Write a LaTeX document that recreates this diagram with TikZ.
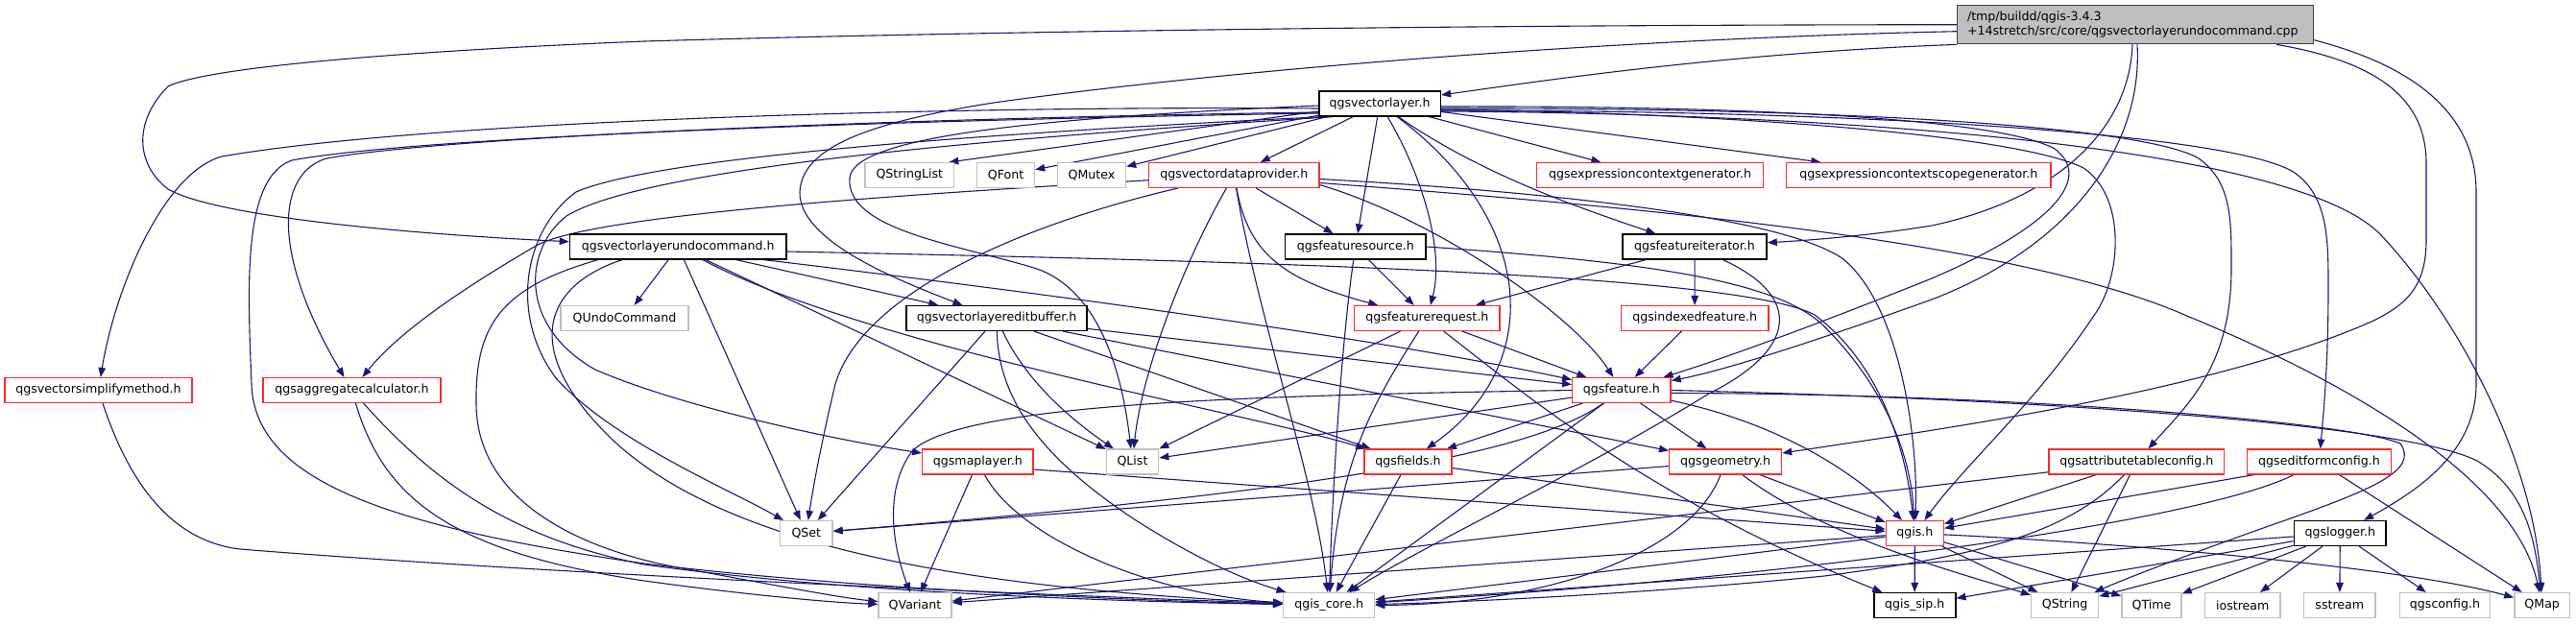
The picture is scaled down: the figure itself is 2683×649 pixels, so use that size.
\documentclass[tikz,border=0pt]{standalone}
\usepackage{fontspec}
\setmainfont{DejaVu Sans}
\usetikzlibrary{arrows.meta}
\definecolor{edgec}{HTML}{191970}
\definecolor{lgray}{HTML}{BFBFBF}
\definecolor{dgray}{HTML}{404040}
\definecolor{nred}{HTML}{FF2A2A}
\pgfdeclarelayer{bg}
\pgfdeclarelayer{edges}
\pgfsetlayers{bg,edges,main}
\tikzset{
  box/.style={fill=white, inner sep=0pt, minimum height=25.7pt, font=\fontsize{12.6}{15}\selectfont, line width=1.4pt},
  nb/.style={box, draw=black, line width=1.6pt},
  nr/.style={box, draw=nred},
  ng/.style={box, draw=lgray},
  ncpp/.style={box, draw=dgray, fill=lgray, minimum height=40pt, text width=350pt, inner xsep=10.5pt, align=left},
  lnk/.style={draw=edgec, line width=1.1pt, -{Triangle[length=10pt,width=7.5pt]}}
}
\begin{document}
\begin{tikzpicture}[x=1pt,y=-1pt]
\begin{pgfonlayer}{bg}
\fill[white] (0,0) rectangle (2683,649);
\end{pgfonlayer}
\useasboundingbox (0,0) rectangle (2683,649);

% nodes
\node[ncpp] (C) at (2224,25.7) {/tmp/buildd/qgis-3.4.3\\+14stretch/src/core/qgsvectorlayerundocommand.cpp};
\node[nb, minimum width=126.6pt] (VL) at (1437,108) {qgsvectorlayer.h};
\node[ng, minimum width=92.6pt] (QSL) at (947.3,182.5) {QStringList};
\node[ng, minimum width=60pt] (QF) at (1047.5,182.5) {QFont};
\node[ng, minimum width=71pt] (QMX) at (1137,182.5) {QMutex};
\node[nr, minimum width=177.3pt] (VDP) at (1285.3,182.5) {qgsvectordataprovider.h};
\node[nr, minimum width=236.2pt] (ECG) at (1718.6,182.5) {qgsexpressioncontextgenerator.h};
\node[nr, minimum width=275.4pt] (ECSG) at (1998.3,182.5) {qgsexpressioncontextscopegenerator.h};
\node[nb, minimum width=225.5pt] (UC) at (706.3,257) {qgsvectorlayerundocommand.h};
\node[nb, minimum width=146.5pt] (FS) at (1411.8,257) {qgsfeaturesource.h};
\node[nb, minimum width=150pt] (FI) at (1765,257) {qgsfeatureiterator.h};
\node[ng, minimum width=133pt] (QUC) at (650.5,331.5) {QUndoCommand};
\node[nb, minimum width=188pt] (EB) at (1038,331.5) {qgsvectorlayereditbuffer.h};
\node[nr, minimum width=151.5pt] (FR) at (1486.3,331.5) {qgsfeaturerequest.h};
\node[nr, minimum width=153.2pt] (IF) at (1765.2,331.5) {qgsindexedfeature.h};
\node[nr, minimum width=195pt] (VSM) at (102.5,406.5) {qgsvectorsimplifymethod.h};
\node[nr, minimum width=185pt] (AGG) at (366.5,406.5) {qgsaggregatecalculator.h};
\node[nr, minimum width=102.3pt] (F) at (1688.9,406.5) {qgsfeature.h};
\node[nr, minimum width=115.3pt] (ML) at (1018.4,481) {qgsmaplayer.h};
\node[ng, minimum width=54.3pt] (QL) at (1179.5,481) {QList};
\node[nr, minimum width=91pt] (FLD) at (1466.5,481) {qgsfields.h};
\node[nr, minimum width=116.8pt] (G) at (1797.1,481) {qgsgeometry.h};
\node[nr, minimum width=182.7pt] (ATC) at (2225.3,481) {qgsattributetableconfig.h};
\node[nr, minimum width=149.8pt] (EFC) at (2415.5,481) {qgseditformconfig.h};
\node[ng, minimum width=54.4pt] (QS) at (839.8,555.5) {QSet};
\node[nr, minimum width=60pt] (Q) at (1994.3,555.5) {qgis.h};
\node[nb, minimum width=95.9pt] (LOG) at (2437.3,555.5) {qgslogger.h};
\node[ng, minimum width=76pt] (QV) at (953,630.5) {QVariant};
\node[ng, minimum width=95pt] (QC) at (1384.2,630.5) {qgis\_core.h};
\node[nb, minimum width=85pt] (SIP) at (1994.2,630.5) {qgis\_sip.h};
\node[ng, minimum width=70pt] (QSTR) at (2150.6,630.5) {QString};
\node[ng, minimum width=62pt] (QT) at (2241,630.5) {QTime};
\node[ng, minimum width=78.5pt] (IOS) at (2335.7,630.5) {iostream};
\node[ng, minimum width=74.3pt] (SST) at (2436.8,630.5) {sstream};
\node[ng, minimum width=94pt] (CFG) at (2546.5,630.5) {qgsconfig.h};
\node[ng, minimum width=57.7pt] (QM) at (2647.7,630.5) {QMap};

\begin{pgfonlayer}{edges}
% from the cpp file
\draw[lnk] (C.south west) .. controls (1800,55) and (1600,85) .. (VL);
\draw[lnk] (C.west) .. controls (1400,26) and (900,36) .. (671,43) .. controls (450,52) and (220,68) .. (175,90) .. controls (140,125) and (140,170) .. (175,197) .. controls (230,228) and (450,245) .. (UC);
\draw[lnk] ([yshift=-7pt]C.west) .. controls (1700,40) and (1300,70) .. (1035,107) .. controls (900,128) and (835,155) .. (833,200) .. controls (832,250) and (930,290) .. (EB);
\draw[lnk] ([xshift=-3pt]C.south) .. controls (2218,130) and (2150,205) .. (2012,235) .. controls (1950,245) and (1890,250) .. (FI);
\draw[lnk] ([xshift=2pt]C.south) .. controls (2232,150) and (2160,255) .. (2012,312) .. controls (1900,352) and (1800,385) .. (F);
\draw[lnk] ([xshift=-39pt]C.south east) .. controls (2480,65) and (2527,105) .. (2527,170) -- (2527,250) .. controls (2527,300) and (2505,318) .. (2470,335) .. controls (2300,410) and (2000,450) .. (G);
\draw[lnk] ([yshift=-16pt]C.east) .. controls (2500,65) and (2579,110) .. (2579,200) -- (2579,400) .. controls (2579,470) and (2520,510) .. (LOG);

% from qgsvectorlayer.h
\draw[lnk] ([yshift=-8pt]VL.west) -- ([xshift=-6pt]QSL.north east);
\draw[lnk] (VL) -- (QF);
\draw[lnk] (VL) -- (QMX);
\draw[lnk] (VL) -- (VDP);
\draw[lnk] (VL) -- (ECG);
\draw[lnk] (VL) -- (ECSG);
\draw[lnk] (VL) -- (FS);
\draw[lnk] (VL) .. controls (1540,180) and (1640,215) .. (FI);
\draw[lnk] (VL) .. controls (1480,180) and (1505,260) .. (FR);
\draw[lnk] (VL) .. controls (1600,230) and (1610,380) .. (FLD);
\draw[lnk] ([yshift=-3pt]VL.east) .. controls (1800,110) and (2080,122) .. (2140,155) .. controls (2180,185) and (2140,235) .. (2012,290) .. controls (1900,335) and (1800,372) .. (F);
\draw[lnk] ([yshift=-6pt]VL.east) .. controls (1800,118) and (2100,140) .. (2170,175) .. controls (2215,205) and (2210,290) .. (2180,330) .. controls (2120,420) and (2050,480) .. (Q);
\draw[lnk] ([yshift=-8pt]VL.east) .. controls (1900,118) and (2390,150) .. (2480,245) .. controls (2560,330) and (2640,480) .. (QM);
\draw[lnk] ([yshift=-5pt]VL.east) .. controls (1900,112) and (2230,130) .. (2290,165) .. controls (2325,190) and (2324,230) .. (2324,280) .. controls (2324,380) and (2280,420) .. (ATC);
\draw[lnk] ([yshift=-7pt]VL.east) .. controls (1950,115) and (2330,140) .. (2390,180) .. controls (2425,205) and (2425,250) .. (2425,300) .. controls (2425,380) and (2420,430) .. (EFC);
\draw[lnk] ([yshift=-9pt]VL.west) .. controls (1000,122) and (480,140) .. (340,165) .. controls (290,180) and (280,260) .. (AGG);
\draw[lnk] ([yshift=-5pt]VL.west) .. controls (1000,110) and (450,125) .. (231,163) .. controls (170,180) and (120,300) .. (VSM);
\draw[lnk] ([yshift=-10pt]VL.west) .. controls (1000,124) and (450,140) .. (304,167) .. controls (252,185) and (258,300) .. (262,400) .. controls (265,500) and (400,548) .. (671,587) .. controls (900,615) and (1200,626) .. (QC);
\draw[lnk] ([xshift=15pt]VL.south west) .. controls (1100,140) and (680,170) .. (590,225) .. controls (545,260) and (540,340) .. (620,385) .. controls (700,420) and (850,455) .. (ML);
\draw[lnk] ([xshift=5pt]VL.south west) .. controls (1000,140) and (680,165) .. (600,200) .. controls (545,240) and (530,330) .. (580,395) .. controls (640,460) and (760,510) .. (QS);
\draw[lnk] ([yshift=-2pt]VL.west) .. controls (1100,122) and (890,140) .. (885,185) .. controls (880,240) and (1000,255) .. (1080,280) .. controls (1150,305) and (1170,400) .. (QL);

% from qgsvectorlayerundocommand.h
\draw[lnk] (UC) -- (QUC);
\draw[lnk] (UC) -- (QS);
\draw[lnk] (UC) -- (QL);
\draw[lnk] (UC) -- (EB);
\draw[lnk] ([xshift=-24pt]UC.south east) .. controls (1000,295) and (1400,345) .. (F);
\draw[lnk] (UC) .. controls (900,360) and (1300,430) .. (FLD);
\draw[lnk] ([yshift=-5pt]UC.east) .. controls (1300,272) and (1810,285) .. (1890,328) .. controls (1960,380) and (1985,470) .. (Q);
\draw[lnk] ([xshift=30pt]UC.south west) .. controls (520,300) and (495,340) .. (496,420) .. controls (496,520) and (600,570) .. (700,590) .. controls (800,608) and (870,622) .. (QV);
\draw[lnk] ([xshift=55pt]UC.south west) .. controls (560,300) and (545,370) .. (640,460) .. controls (760,570) and (1000,612) .. (QC);

% from qgsvectordataprovider.h
\draw[lnk] (VDP) .. controls (900,205) and (620,225) .. (560,255) .. controls (500,290) and (420,340) .. (AGG);
\draw[lnk] (VDP) .. controls (1080,230) and (900,300) .. (870,400) .. controls (858,450) and (848,500) .. (QS);
\draw[lnk] (VDP) .. controls (1240,260) and (1190,380) .. (QL);
\draw[lnk] (VDP) .. controls (1310,330) and (1370,500) .. (QC);
\draw[lnk] (VDP) -- (FS);
\draw[lnk] (VDP) .. controls (1300,260) and (1330,290) .. (FR);
\draw[lnk] ([yshift=-10pt]VDP.east) .. controls (1500,230) and (1640,330) .. (F);
\draw[lnk] ([yshift=-4pt]VDP.east) .. controls (1550,196) and (1850,220) .. (1920,270) .. controls (1980,320) and (1998,460) .. (Q);
\draw[lnk] ([yshift=-8pt]VDP.east) .. controls (1700,215) and (2100,250) .. (2280,330) .. controls (2450,400) and (2620,500) .. (QM);

% from qgsfeaturesource.h / qgsfeatureiterator.h
\draw[lnk] (FS) .. controls (1398,350) and (1388,500) .. (QC);
\draw[lnk] (FS) -- (FR);
\draw[lnk] (FS.east) .. controls (1700,272) and (1850,290) .. (1900,340) .. controls (1960,400) and (1990,470) .. (Q);
\draw[lnk] (FI) -- (IF);
\draw[lnk] (FI) -- (FR);
\draw[lnk] (FI) .. controls (1880,310) and (1870,365) .. (1780,410) .. controls (1650,490) and (1480,570) .. (QC);

% from qgsvectorlayereditbuffer.h
\draw[lnk] (EB) .. controls (1040,420) and (1090,480) .. (1180,540) .. controls (1250,585) and (1300,605) .. (QC);
\draw[lnk] (EB) .. controls (1070,400) and (1120,440) .. (QL);
\draw[lnk] (EB) -- (QS);
\draw[lnk] (EB) -- (FLD);
\draw[lnk] (EB) -- (F);
\draw[lnk] (EB) -- (G);

% from qgsfeaturerequest.h / qgsindexedfeature.h
\draw[lnk] (FR) -- (QL);
\draw[lnk] (FR) .. controls (1430,420) and (1395,480) .. (QC);
\draw[lnk] (FR) .. controls (1600,420) and (1720,520) .. (SIP);
\draw[lnk] (FR) -- (F);
\draw[lnk] (IF) -- (F);

% from qgsvectorsimplifymethod.h / qgsaggregatecalculator.h
\draw[lnk] (VSM) .. controls (140,520) and (190,565) .. (250,572) .. controls (600,600) and (1100,620) .. (QC);
\draw[lnk] (AGG) .. controls (400,520) and (470,575) .. (671,605) .. controls (780,620) and (870,628) .. (QV);
\draw[lnk] (AGG) .. controls (450,500) and (530,560) .. (671,588) .. controls (900,620) and (1200,627) .. (QC);

% from qgsfeature.h
\draw[lnk] (F.west) .. controls (1300,412) and (1000,420) .. (950,470) .. controls (920,510) and (930,570) .. (QV);
\draw[lnk] (F) -- (QL);
\draw[lnk] (F) .. controls (1600,470) and (1400,510) .. (QS);
\draw[lnk] (F) -- (QC);
\draw[lnk] (F) -- (FLD);
\draw[lnk] (F) -- (G);
\draw[lnk] (F) .. controls (1850,440) and (1930,490) .. (Q);
\draw[lnk] (F.east) .. controls (2100,415) and (2500,440) .. (2580,480) .. controls (2630,510) and (2640,560) .. (QM);
\draw[lnk] ([yshift=-3pt]F.east) .. controls (2100,410) and (2450,440) .. (2500,462) .. controls (2520,490) and (2470,510) .. (2380,542) .. controls (2300,570) and (2220,600) .. (QSTR);

% from qgsmaplayer.h / qgsfields.h / qgsgeometry.h
\draw[lnk] (ML) -- (QV);
\draw[lnk] (ML) .. controls (1060,560) and (1200,620) .. (QC);
\draw[lnk] ([yshift=-8pt]ML.east) -- (Q);
\draw[lnk] (FLD) -- (QC);
\draw[lnk] (FLD) -- (Q);
\draw[lnk] (G) -- (QS);
\draw[lnk] (G) .. controls (1760,580) and (1600,630) .. (QC);
\draw[lnk] (G) -- (Q);
\draw[lnk] (G) .. controls (1900,560) and (2050,600) .. (QSTR);

% from qgsattributetableconfig.h / qgseditformconfig.h
\draw[lnk] (ATC) -- (QV);
\draw[lnk] (ATC) -- (Q);
\draw[lnk] (ATC) .. controls (2150,560) and (2050,580) .. (1900,600) .. controls (1700,620) and (1500,628) .. (QC);
\draw[lnk] (ATC) -- (QSTR);
\draw[lnk] ([xshift=8pt]EFC.south west) -- (Q);
\draw[lnk] (EFC) .. controls (2300,540) and (1900,600) .. (QC);
\draw[lnk] (EFC) -- (QM);

% from qgis.h
\draw[lnk] (Q) -- (QV);
\draw[lnk] (Q) -- (QC);
\draw[lnk] (Q) -- (SIP);
\draw[lnk] (Q) -- (QSTR);
\draw[lnk] (Q) -- (QT);
\draw[lnk] (Q) .. controls (2200,565) and (2500,590) .. (QM);

% from qgslogger.h
\draw[lnk] (LOG) -- (QC);
\draw[lnk] (LOG) -- (SIP);
\draw[lnk] (LOG) -- (QSTR);
\draw[lnk] (LOG) -- (QT);
\draw[lnk] (LOG) -- (IOS);
\draw[lnk] (LOG) -- (SST);
\draw[lnk] (LOG) -- (CFG);
\end{pgfonlayer}
\end{tikzpicture}
\end{document}
